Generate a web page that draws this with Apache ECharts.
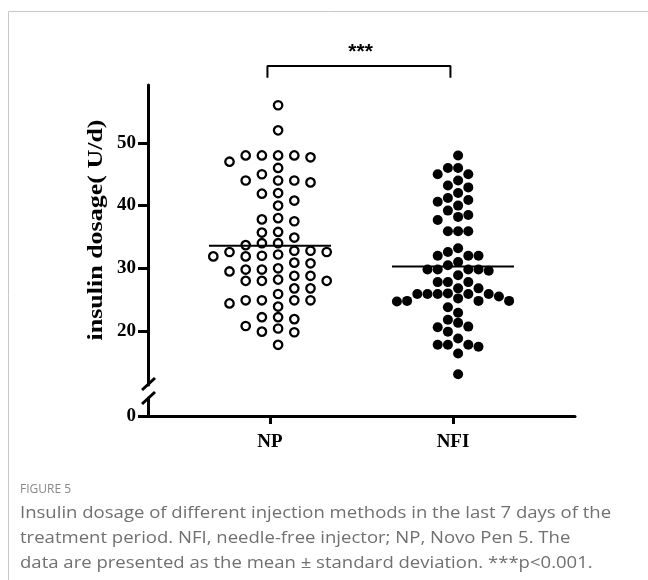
<!DOCTYPE html>
<html><head><meta charset="utf-8">
<script src="https://cdn.jsdelivr.net/npm/echarts@6/dist/echarts.min.js"></script>
<style>html,body{margin:0;padding:0;background:#fff;} #c{width:648px;height:580px;}</style>
</head><body><div id="c"></div>
<script>
// ---------------- data ----------------
const categories = ['NP', 'NFI'];
const npValues = [56, 52, 48, 48, 48, 47, 48, 47.7, 46, 45, 44, 44, 43.7, 44, 42, 41.9, 40.8, 40,
  37.5, 38, 37.8, 35.7, 35.8, 34.9, 34, 34, 33.7, 32.8, 32.2, 32.6, 32, 32.6, 31.9, 31.9, 32.8,
  30.9, 30.8, 29.8, 29.8, 30.0, 29.5, 28.8, 28.8, 28, 28.2, 28, 28, 26.8, 26.8, 25.9,
  24.9, 24.9, 24.9, 24.9, 24.4, 23.9, 21.9, 22.2, 22.2, 19.9, 20.8, 19.8, 20.4, 17.8];
const nfiValues = [48, 46, 46, 45, 45, 44, 43.2, 42.9, 42, 41.2, 40.6, 40.9, 40, 39.2, 38.2, 38.5,
  37.7, 35.9, 35.9, 35.9, 33.2, 32.6, 32, 32, 32, 31.0, 30.5, 29.8, 29.8, 29.6, 29.8, 29.8,
  28.9, 27.8, 27.8, 27.8, 26.8, 26.8, 25.9, 25.9, 25.9, 25.9, 26.0, 25.9, 25.5, 24.8, 24.8,
  24.7, 25.2, 24.8, 23.8, 22.9, 21.8, 21.3, 20.7, 20.6, 19.9, 18.8, 17.8, 17.8, 17.5, 17.8, 16.4, 13.1];
const yTickValues = [20, 30, 40, 50];
const yLowTickValues = [0];
const significanceLabel = '***';
const yAxisTitle = 'insulin dosage( U/d)';
const captionTitle = 'FIGURE 5';
const captionLines = [
  'Insulin dosage of different injection methods in the last 7 days of the',
  'treatment period. NFI, needle-free injector; NP, Novo Pen 5. The',
  'data are presented as the mean \u00b1 standard deviation. ***p<0.001.'
];

// ---------------- layout constants ----------------
const X_MIN = 1 / 3, X_MAX = 8 / 3;
const UP_TOP = 85, UP_BOTTOM_PX = 385, LOW_TOP = 398, AXIS_Y = 416;
const UP_MIN = 11.39, UP_MAX = 59.23;
const GRID_LEFT = 148, GRID_RIGHT_PX = 575;
const pxPerX = (GRID_RIGHT_PX - GRID_LEFT) / (X_MAX - X_MIN);
const pxPerY = (UP_BOTTOM_PX - UP_TOP) / (UP_MAX - UP_MIN);
const LOW_MAX = (AXIS_Y - LOW_TOP) / pxPerY;

function mean(a) { return a.reduce((s, v) => s + v, 0) / a.length; }

// grid-based beeswarm: columns at half offsets, nearest free column to the centre
function swarm(values, groupX, spacingPx, minSepPx) {
  const order = values.map((v, i) => i).sort((a, b) => values[b] - values[a]);
  const cols = {};
  const out = [];
  order.forEach(i => {
    const ypx = values[i] * pxPerY;
    for (let k = 0; k < 20; k++) {
      for (const s of [1, -1]) {
        const c = s * (k + 0.5);
        const list = cols[c] || (cols[c] = []);
        if (list.every(y => Math.abs(y - ypx) >= minSepPx)) {
          list.push(ypx);
          out.push([groupX + c * spacingPx / pxPerX, values[i]]);
          return;
        }
      }
    }
  });
  return out;
}

const npPts = swarm(npValues, 1, 16.2, 10);
const nfiPts = swarm(nfiValues, 2, 10.2, 10);
const npMean = mean(npValues), nfiMean = mean(nfiValues);
const HALF = 1 / 3;
const serif = '"Liberation Serif", "Times New Roman", serif';

const chart = echarts.init(document.getElementById('c'), null, { renderer: 'canvas' });
const axisLineStyle = { color: '#000', width: 3 };
const tickLabel = { color: '#000', fontFamily: serif, fontWeight: 'bold', fontSize: 19 };

const option = {
  animation: false,
  backgroundColor: '#fff',
  grid: [
    { left: GRID_LEFT, right: 648 - GRID_RIGHT_PX, top: UP_TOP, height: UP_BOTTOM_PX - UP_TOP },
    { left: GRID_LEFT, right: 648 - GRID_RIGHT_PX, top: LOW_TOP, height: AXIS_Y - LOW_TOP }
  ],
  xAxis: [
    { gridIndex: 0, type: 'value', min: X_MIN, max: X_MAX, show: false },
    { gridIndex: 1, type: 'value', min: X_MIN, max: X_MAX,
      axisLine: { show: true, onZero: false, lineStyle: axisLineStyle },
      axisTick: { show: true, length: 8, lineStyle: { color: '#000', width: 3 }, customValues: [1, 2] },
      splitLine: { show: false },
      axisLabel: Object.assign({ customValues: [1, 2], formatter: v => categories[Math.round(v) - 1], margin: 17 }, tickLabel) }
  ],
  yAxis: [
    { gridIndex: 0, type: 'value', min: UP_MIN, max: UP_MAX,
      axisLine: { show: true, lineStyle: axisLineStyle },
      axisTick: { show: true, length: 10, lineStyle: { color: '#000', width: 3 }, customValues: yTickValues },
      splitLine: { show: false },
      axisLabel: Object.assign({ customValues: yTickValues, margin: 12 }, tickLabel) },
    { gridIndex: 1, type: 'value', min: 0, max: LOW_MAX,
      axisLine: { show: true, lineStyle: axisLineStyle },
      axisTick: { show: true, length: 10, lineStyle: { color: '#000', width: 3 }, customValues: yLowTickValues },
      splitLine: { show: false },
      axisLabel: Object.assign({ customValues: yLowTickValues, margin: 12 }, tickLabel) }
  ],
  series: [
    { type: 'scatter', name: categories[0], xAxisIndex: 0, yAxisIndex: 0, data: npPts,
      symbol: 'circle', symbolSize: 8.4,
      itemStyle: { color: '#fff', borderColor: '#000', borderWidth: 2.3, opacity: 1 }, z: 3 },
    { type: 'scatter', name: categories[1], xAxisIndex: 0, yAxisIndex: 0, data: nfiPts,
      symbol: 'circle', symbolSize: 10, itemStyle: { color: '#000', opacity: 1 }, z: 3 },
    { type: 'line', xAxisIndex: 0, yAxisIndex: 0, data: [[1 - HALF, npMean], [1 + HALF, npMean]],
      symbol: 'none', lineStyle: { color: '#000', width: 2 }, z: 4 },
    { type: 'line', xAxisIndex: 0, yAxisIndex: 0, data: [[2 - HALF, nfiMean], [2 + HALF, nfiMean]],
      symbol: 'none', lineStyle: { color: '#000', width: 2 }, z: 4 },
    { type: 'line', xAxisIndex: 0, yAxisIndex: 0, clip: false,
      data: [[1 - 0.014, 60.4], [1 - 0.014, 62.26], [2 - 0.014, 62.26], [2 - 0.014, 60.4]],
      symbol: 'none', lineStyle: { color: '#000', width: 2 }, z: 4 }
  ]
};
chart.setOption(option);

const sigPos = chart.convertToPixel({ gridIndex: 0 }, [1.495, 64.5]);
const graphics = [
  { type: 'line', shape: { x1: 8.5, y1: 11.5, x2: 648, y2: 11.5 }, style: { stroke: '#c8c8c8', lineWidth: 1 } },
  { type: 'line', shape: { x1: 8.5, y1: 11.5, x2: 8.5, y2: 580 }, style: { stroke: '#c8c8c8', lineWidth: 1 } },
  // axis break marks
  { type: 'line', shape: { x1: 142, y1: 390, x2: 155, y2: 378 }, style: { stroke: '#000', lineWidth: 3 } },
  { type: 'line', shape: { x1: 142, y1: 404, x2: 155, y2: 392 }, style: { stroke: '#000', lineWidth: 3 } },
  { type: 'text', x: sigPos[0], y: sigPos[1], style: { text: significanceLabel, fill: '#000',
      font: 'bold 21px "Liberation Sans", Arial, sans-serif', textAlign: 'center', textVerticalAlign: 'middle' } },
  { type: 'text', x: 97, y: 230, rotation: Math.PI / 2, scaleX: 1.3, style: { text: yAxisTitle, fill: '#000',
      font: 'bold 20px ' + serif, textAlign: 'center', textVerticalAlign: 'middle' } },
  { type: 'text', x: 20, y: 490, style: { text: captionTitle, fill: '#888',
      font: '12px "Open Sans", sans-serif', textAlign: 'left', textVerticalAlign: 'middle' } }
];
captionLines.forEach((t, i) => graphics.push({ type: 'text', x: 20, y: 513 + i * 25, scaleX: 1.09,
  style: { text: t, fill: '#707070', font: '17px "Open Sans", sans-serif', textAlign: 'left', textVerticalAlign: 'middle' } }));
chart.setOption({ graphic: graphics });
</script>
</body></html>
